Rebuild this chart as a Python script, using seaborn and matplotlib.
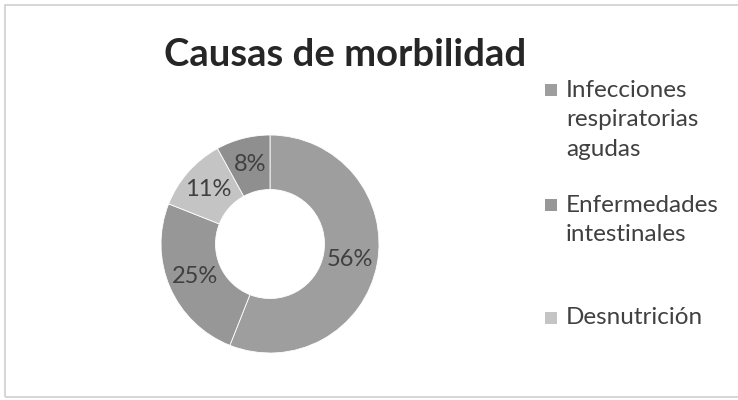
import matplotlib
matplotlib.use('Agg')
import matplotlib.pyplot as plt
import seaborn as sns
import numpy as np
from matplotlib.patches import Rectangle

# datos del grafico
causas = ['Infecciones\nrespiratorias\nagudas', 'Enfermedades\nintestinales', 'Desnutrición', 'Otras']
porcentajes = [56, 25, 11, 8]
colores = ['#9e9e9e', '#979797', '#c4c4c4', '#8f8f8f']
n_leyenda = 3  # solo se ven 3 entradas en la leyenda

sns.set_theme(style='white')
plt.rcParams['font.family'] = ['Lato', 'DejaVu Sans']

fig = plt.figure(figsize=(7.38, 4.0), dpi=100)
ax = fig.add_axes([(270 - 109) / 738, (400 - 244 - 109) / 400, 218 / 738, 218 / 400])

wedges, _ = ax.pie(porcentajes, colors=colores, startangle=90, counterclock=False,
                   radius=1.0, wedgeprops=dict(width=0.5, edgecolor='white', linewidth=0.6))
ax.set_xlim(-1, 1)
ax.set_ylim(-1, 1)
ax.set_aspect('equal')

# etiquetas de porcentaje en el anillo
total = sum(porcentajes)
acum = 0
for v in porcentajes:
    ang = np.deg2rad(90 - 360 * (acum + v / 2) / total)
    acum += v
    ax.text(0.75 * np.cos(ang), 0.75 * np.sin(ang), f'{v}%', ha='center', va='center',
            fontsize=17, color='#404040')

fig.suptitle('Causas de morbilidad', x=345/738, y=1 - 55/400, va='center',
             fontsize=27.5, fontweight='bold', color='#262626')

# leyenda manual
centros = [120, 220, 318]
for i in range(n_leyenda):
    nl = causas[i].count('\n') + 1
    yc = 1 - centros[i] / 400
    y1 = yc + (nl - 1) * 15 / 400
    fig.patches.append(Rectangle((545/738, y1 - 6/400), 12/738, 12/400, transform=fig.transFigure,
                                 facecolor=colores[i], edgecolor='none'))
    fig.text(566/738, yc, causas[i], va='center', ha='left', fontsize=17.5,
             color='#404040', linespacing=1.5)

# borde del area del grafico
fig.patches.append(Rectangle((5/738, 3/400), 740/738, 392/400, transform=fig.transFigure,
                             facecolor='none', edgecolor='#d0d0d0', linewidth=1.2))

fig.savefig('out.png', dpi=100)
